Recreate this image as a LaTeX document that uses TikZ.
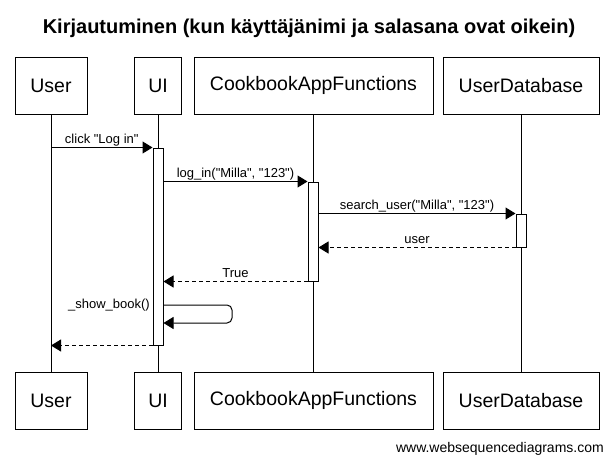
\documentclass[tikz,border=0pt]{standalone}
\usepackage{fontspec}
\setmainfont{Liberation Sans}
\newfontfamily\plainfont{Liberation Sans}
\usetikzlibrary{arrows.meta}
\begin{document}
\begin{tikzpicture}[x=1pt,y=-1pt,
  actor/.style={draw=black, line width=1pt, fill=white, minimum height=57pt, inner sep=0pt, font=\fontsize{19.5}{22}\selectfont},
  life/.style={draw=black, line width=1pt},
  act/.style={draw=black, fill=white, line width=1pt, minimum width=10pt, inner sep=0pt},
  msg/.style={draw=black, line width=1pt, -{Triangle[length=10pt,width=12pt]}},
  ret/.style={msg, dash pattern=on 4pt off 3pt},
  lbl/.style={font=\plainfont\fontsize{13}{15}\selectfont, inner sep=0pt, anchor=base, yshift=4.5pt}
]
\fill[white] (0,0) rectangle (614,463);
\useasboundingbox (0,0) rectangle (614,463);

\node[font=\bfseries\fontsize{20}{24}\selectfont, anchor=base] (title) at (309,33) {Kirjautuminen (kun käyttäjänimi ja salasana ovat oikein)};

% top actors
\node[actor, minimum width=72pt] (userT) at (51,85.5) {User};
\node[actor, minimum width=47pt] (uiT) at (158,85.5) {UI};
\node[actor, minimum width=239pt] (cbT) at (313.5,85.5) {CookbookAppFunctions};
\node[actor, minimum width=156pt] (udT) at (521,85.5) {UserDatabase};
% bottom actors
\node[actor, minimum width=72pt] (userB) at (51,400.5) {User};
\node[actor, minimum width=47pt] (uiB) at (158,400.5) {UI};
\node[actor, minimum width=239pt] (cbB) at (313.5,400.5) {CookbookAppFunctions};
\node[actor, minimum width=156pt] (udB) at (521,400.5) {UserDatabase};

% lifelines
\draw[life] (userT.south) -- (userB.north);
\draw[life] (uiT.south) -- (uiB.north);
\coordinate (cbL1) at (313,114);
\coordinate (cbL2) at (313,372);
\draw[life] (cbL1) -- (cbL2);
\draw[life] (udT.south) -- (udB.north);

% activations
\node[act, minimum height=197pt] (aUI) at (158,246.5) {};
\node[act, minimum height=99pt] (aCB) at (313,231.5) {};
\node[act, minimum height=33pt] (aUD) at (521,230.5) {};

% messages
\draw[msg] (userT |- aUI.north) -- node[lbl, midway] {click "Log in"} (aUI.north west);
\draw[msg] (aUI.east |- aCB.north) -- node[lbl, midway] {log\_in("Milla", "123")} (aCB.north west);
\draw[msg] (aCB.east |- aUD.north) -- node[lbl, midway] {search\_user("Milla", "123")} (aUD.north west);
\draw[ret] (aUD.south west) -- node[lbl, midway] {user} (aCB.east |- aUD.south);
\draw[ret] (aCB.south west) -- node[lbl, midway] {True} (aUI.east |- aCB.south);

\coordinate (selfA) at (0,305);
\coordinate (selfB) at (0,323);
\coordinate (selfR) at (232,0);
\draw[msg, rounded corners=5pt] (aUI.east |- selfA) -- (selfR |- selfA) -- (selfR |- selfB) -- (aUI.east |- selfB);
\node[font=\plainfont\fontsize{13}{15}\selectfont, inner sep=0pt, anchor=east] (showlbl) at (150,305) {\_show\_book()};

\draw[ret] (aUI.south west) -- (userT |- aUI.south);

\node[font=\fontsize{14}{16}\selectfont, inner sep=0pt, anchor=base east] (web) at (604,452) {www.websequencediagrams.com};
\end{tikzpicture}
\end{document}
